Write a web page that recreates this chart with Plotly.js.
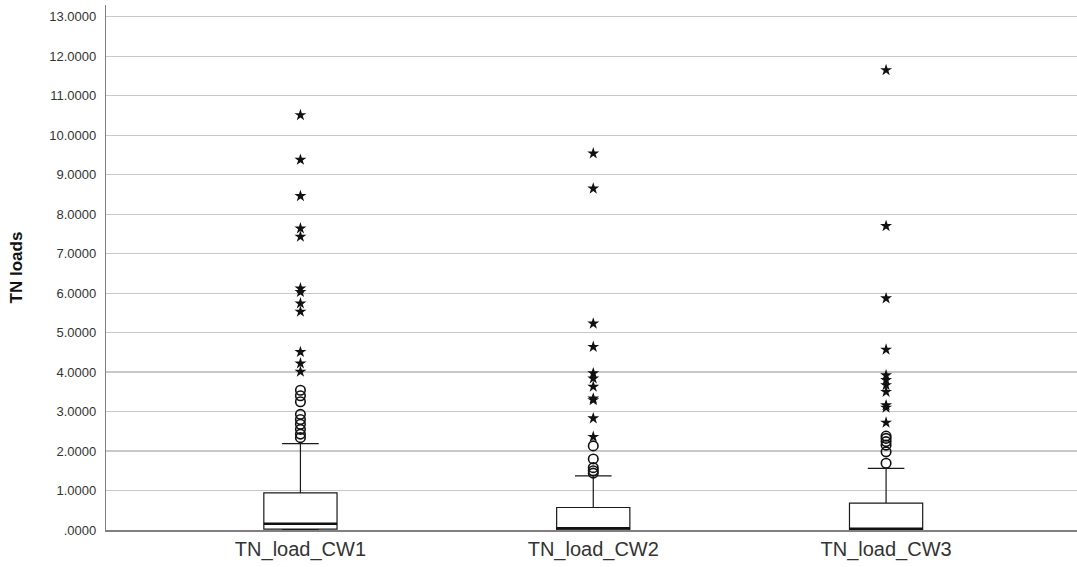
<!DOCTYPE html>
<html>
<head>
<meta charset="utf-8">
<script src="https://cdn.plot.ly/plotly-3.0.1.min.js"></script>
<style>
  html, body { margin: 0; padding: 0; background: #ffffff; }
  #chart { width: 1077px; height: 567px; }
</style>
</head>
<body>
<div id="chart"></div>
<script>
// Categories
const categories = ['TN_load_CW1', 'TN_load_CW2', 'TN_load_CW3'];

// Box statistics
const lowerFence = [0.00, 0.00, 0.00];
const q1Values = [0.02, 0.00, 0.00];
const medianValues = [0.16, 0.04, 0.03];
const q3Values = [0.94, 0.57, 0.68];
const upperFence = [2.19, 1.37, 1.56];

// Outliers (circles) per category
const cw1Outliers = [3.54, 3.40, 3.25, 2.93, 2.80, 2.68, 2.55, 2.43, 2.34];
const cw2Outliers = [2.13, 1.80, 1.58, 1.50, 1.44];
const cw3Outliers = [2.38, 2.32, 2.24, 2.15, 1.98, 1.69];

// Extreme values (stars) per category
const cw1Extremes = [10.51, 9.38, 8.46, 7.64, 7.43, 6.12, 6.03, 5.74, 5.53, 4.51, 4.22, 4.01];
const cw2Extremes = [9.54, 8.65, 5.23, 4.64, 3.97, 3.84, 3.63, 3.33, 3.29, 2.83, 2.36];
const cw3Extremes = [11.65, 7.70, 5.87, 4.57, 3.92, 3.80, 3.67, 3.50, 3.16, 3.10, 2.72];

// Y tick labels
const yTickVals = [0, 1, 2, 3, 4, 5, 6, 7, 8, 9, 10, 11, 12, 13];
const yTickText = ['.0000', '1.0000', '2.0000', '3.0000', '4.0000', '5.0000', '6.0000',
                   '7.0000', '8.0000', '9.0000', '10.0000', '11.0000', '12.0000', '13.0000'];

const outlierGroups = [cw1Outliers, cw2Outliers, cw3Outliers];
const extremeGroups = [cw1Extremes, cw2Extremes, cw3Extremes];

function flatX(groups) {
  const xs = [];
  groups.forEach((g, i) => g.forEach(() => xs.push(categories[i])));
  return xs;
}
function flatY(groups) {
  const ys = [];
  groups.forEach(g => g.forEach(v => ys.push(v)));
  return ys;
}

const boxTrace = {
  type: 'box',
  x: categories,
  lowerfence: lowerFence,
  q1: q1Values,
  median: medianValues,
  q3: q3Values,
  upperfence: upperFence,
  boxpoints: false,
  fillcolor: '#ffffff',
  line: { color: '#1a1a1a', width: 1.2 },
  whiskerwidth: 0.5,
  width: 0.25,
  hoverinfo: 'skip',
  showlegend: false
};

// Thick median line, drawn as a degenerate box at the median value
const medianTrace = {
  type: 'box',
  x: categories,
  lowerfence: medianValues,
  q1: medianValues,
  median: medianValues,
  q3: medianValues,
  upperfence: medianValues,
  boxpoints: false,
  fillcolor: 'rgba(0,0,0,0)',
  line: { color: '#111111', width: 2.6 },
  whiskerwidth: 0,
  width: 0.25,
  hoverinfo: 'skip',
  showlegend: false
};

const outlierTrace = {
  type: 'scatter',
  mode: 'markers',
  x: flatX(outlierGroups),
  y: flatY(outlierGroups),
  marker: { symbol: 'circle-open', size: 9.5, color: '#111111', line: { width: 1.6, color: '#111111' } },
  hoverinfo: 'y',
  showlegend: false
};

const extremeTrace = {
  type: 'scatter',
  mode: 'markers',
  x: flatX(extremeGroups),
  y: flatY(extremeGroups),
  marker: { symbol: 'star', size: 9, color: '#111111', line: { width: 0 } },
  hoverinfo: 'y',
  showlegend: false
};

const fontFam = 'Arial, "Liberation Sans", sans-serif';

const layout = {
  width: 1077,
  height: 567,
  margin: { l: 106, r: 0, t: 5, b: 37 },
  paper_bgcolor: '#ffffff',
  plot_bgcolor: '#ffffff',
  showlegend: false,
  boxmode: 'overlay',
  font: { family: fontFam, color: '#333333' },
  xaxis: {
    type: 'category',
    range: [-0.664, 2.652],
    showgrid: false,
    showline: true,
    linecolor: '#808080',
    linewidth: 1.5,
    ticks: '',
    tickfont: { family: fontFam, size: 20, color: '#333333' },
    zeroline: false,
    fixedrange: true
  },
  yaxis: {
    range: [0, 13.3],
    tickvals: yTickVals,
    ticktext: yTickText,
    showgrid: true,
    gridcolor: '#c8c8c8',
    gridwidth: 1.3,
    showline: true,
    linecolor: '#808080',
    linewidth: 1.2,
    ticks: '',
    ticklabelstandoff: 6,
    zeroline: false,
    tickfont: { family: fontFam, size: 13, color: '#333333' },
    title: { text: 'TN loads', font: { family: fontFam, size: 17, color: '#111111', weight: 'bold' }, standoff: 22 },
    fixedrange: true
  }
};

Plotly.newPlot('chart', [boxTrace, medianTrace, outlierTrace, extremeTrace], layout, { displayModeBar: false, staticPlot: true });
</script>
</body>
</html>
